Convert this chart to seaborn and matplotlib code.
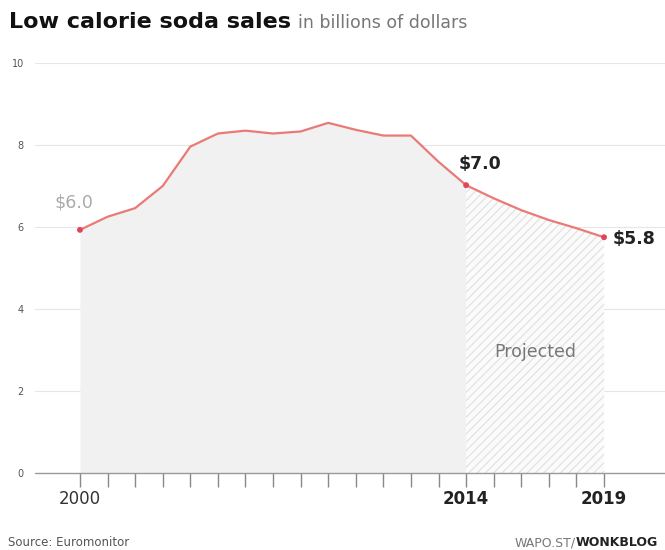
import matplotlib
matplotlib.use("Agg")
import matplotlib.pyplot as plt
import seaborn as sns
import pandas as pd
import numpy as np

years = list(range(2000, 2020))
sales = [5.93, 6.25, 6.46, 7.0, 7.96, 8.28, 8.35, 8.28, 8.33, 8.54,
         8.37, 8.23, 8.23, 7.59, 7.02, 6.70, 6.41, 6.17, 5.97, 5.75]
last_actual_year = 2014
highlight_years = [2000, 2014, 2019]
highlight_labels = ["$6.0", "$7.0", "$5.8"]
ytick_values = [0, 2, 4, 6, 8, 10]
xtick_labels = {2000: "2000", 2014: "2014", 2019: "2019"}
title_text = "Low calorie soda sales"
subtitle_text = "in billions of dollars"
source_text = "Source: Euromonitor"
credit_left = "WAPO.ST/"
credit_right = "WONKBLOG"
projected_text = "Projected"

df = pd.DataFrame({"year": years, "sales": sales})

sns.set_theme(style="white")
plt.rcParams['font.family'] = ['DejaVu Sans']
plt.rcParams['hatch.color'] = '#e0e0e0'
plt.rcParams['hatch.linewidth'] = 0.8

fig = plt.figure(figsize=(6.65, 5.5), dpi=100)
ax = fig.add_axes([35/665, 77/550, 630/665, 410/550])

line_color = "#e97a76"
dot_color = "#e0455a"

actual = df[df.year <= last_actual_year]
proj = df[df.year >= last_actual_year]
ax.fill_between(actual.year, 0, actual.sales, color="#f1f1f1", linewidth=0, zorder=1)
ax.fill_between(proj.year, 0, proj.sales, facecolor="#fbfbfb", edgecolor="#e0e0e0",
                hatch="////", linewidth=0, zorder=1)

sns.lineplot(data=df, x="year", y="sales", ax=ax, color=line_color, linewidth=1.6, zorder=3)
hl = df[df.year.isin(highlight_years)]
sns.scatterplot(data=hl, x="year", y="sales", ax=ax, color=dot_color, s=18,
                edgecolor="none", zorder=4)

ax.set_xlim(1998.37, 2021.21)
ax.set_ylim(0, 10)

for v in ytick_values:
    if v == 0:
        continue
    ax.axhline(v, color="#e6e6e6", linewidth=0.8, zorder=0.5)
ax.axhline(0, color="#999999", linewidth=1.0, zorder=5, clip_on=False)

for s in ax.spines.values():
    s.set_visible(False)

ax.set_yticks(ytick_values)
ax.set_yticklabels([str(v) for v in ytick_values], fontsize=7, color="#555555")
ax.tick_params(axis="y", left=False, length=0, pad=8)

ax.set_xticks(years)
ax.set_xticklabels([xtick_labels.get(y, "") for y in years], fontsize=12, color="#333333")
ax.tick_params(axis="x", bottom=True, direction="out", length=10, width=1,
               color="#888888", pad=2)
for lab, y in zip(ax.get_xticklabels(), years):
    if y in (2014, 2019):
        lab.set_fontweight("bold")
        lab.set_color("#222222")
ax.set_xlabel("")
ax.set_ylabel("")
ax.grid(False)

# value labels
ax.annotate(highlight_labels[0], (2000, sales[0]), xytext=(-4, 13), textcoords="offset points",
            ha="center", va="bottom", fontsize=12.5, color="#aaaaaa")
ax.annotate(highlight_labels[1], (2014, sales[14]), xytext=(10, 9), textcoords="offset points",
            ha="center", va="bottom", fontsize=12.5, color="#222222", fontweight="bold")
ax.annotate(highlight_labels[2], (2019, sales[19]), xytext=(6, -1), textcoords="offset points",
            ha="left", va="center", fontsize=12.5, color="#222222", fontweight="bold",
            annotation_clip=False)
ax.text(2016.5, 2.95, projected_text, ha="center", va="center", fontsize=12.5, color="#777777")

# title
t1 = fig.text(9/665, 1 - 22/550, title_text, fontsize=16, fontweight="bold",
              color="#111111", va="center", ha="left")
fig.canvas.draw()
bb = t1.get_window_extent()
fig.text((bb.x1 + 7) / 665, 1 - 23/550, subtitle_text, fontsize=12.5, color="#777777",
         va="center", ha="left")

fig.text(8/665, 1 - 543/550, source_text, fontsize=8.5, color="#555555", va="center", ha="left")
c1 = fig.text(515/665, 1 - 543/550, credit_left, fontsize=9, color="#777777", va="center", ha="left")
fig.canvas.draw()
bb2 = c1.get_window_extent()
fig.text(bb2.x1 / 665, 1 - 543/550, credit_right, fontsize=9, color="#222222",
         fontweight="bold", va="center", ha="left")

fig.savefig("out.png", dpi=100)
